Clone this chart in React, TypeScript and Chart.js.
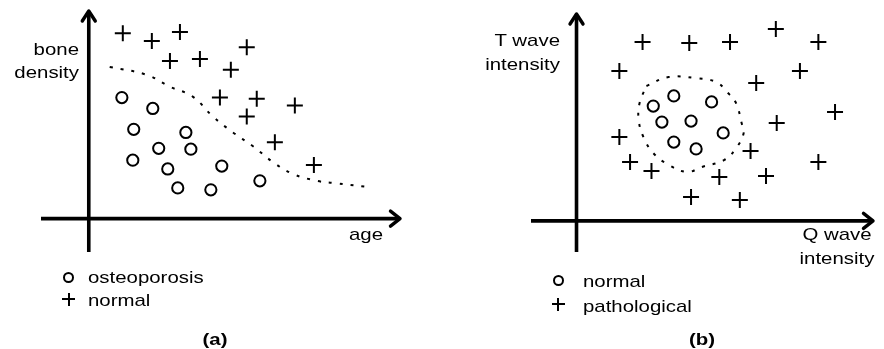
import React, { useEffect, useRef } from "react";
import { Chart, registerables } from "chart.js";

Chart.register(...registerables);

// ---------- Panel (a): bone density vs age ----------
const osteoAgeX = [1.06, 2.05, 1.44, 3.11, 2.24, 3.27, 1.41, 2.53, 4.26, 2.85, 3.91, 5.48];
const osteoDensityY = [5.8, 5.28, 4.28, 4.13, 3.37, 3.33, 2.8, 2.38, 2.52, 1.47, 1.38, 1.81];

const normalAgeX = [1.09, 2.02, 2.92, 2.6, 3.56, 5.06, 4.55, 4.2, 5.38, 6.6, 5.06, 5.96, 7.21];
const normalDensityY = [8.89, 8.51, 8.94, 7.56, 7.65, 8.22, 7.13, 5.8, 5.75, 5.42, 4.9, 3.66, 2.57];

const boundaryAX = [0.67, 1.86, 2.6, 3.33, 3.97, 4.62, 5.26, 5.9, 6.54, 7.31, 7.82, 8.91];
const boundaryAY = [7.27, 6.89, 6.32, 5.85, 4.9, 4.13, 3.47, 2.71, 2.14, 1.81, 1.71, 1.52];

// ---------- Panel (b): T wave vs Q wave intensity ----------
const normalQX = [2.58, 3.27, 4.54, 2.87, 3.85, 4.93, 3.27, 4.02];
const normalTY = [5.52, 6.01, 5.72, 4.75, 4.8, 4.23, 3.79, 3.46];

const pathQX = [2.22, 3.79, 5.16, 6.7, 8.13, 1.44, 7.51, 6.04, 8.69, 6.73, 1.44, 5.85, 1.8, 2.52, 4.8, 6.37, 8.13, 3.85, 5.49];
const pathTY = [8.6, 8.56, 8.6, 9.23, 8.6, 7.21, 7.21, 6.63, 5.24, 4.71, 4.03, 3.36, 2.83, 2.4, 2.11, 2.16, 2.83, 1.15, 1.0];

const boundaryBX = [2.35, 3.1, 3.99, 4.7, 5.06, 5.36, 5.55, 5.62, 5.39, 4.97, 4.21, 3.72, 3.1, 2.58, 2.25, 2.09, 2.12, 2.35];
const boundaryBY = [6.49, 6.92, 6.87, 6.68, 6.2, 5.67, 4.71, 4.23, 3.55, 2.93, 2.59, 2.35, 2.69, 3.26, 4.03, 4.85, 5.67, 6.49];

const FONT = '"Liberation Sans", Arial, sans-serif';

const zip = (xs: number[], ys: number[]) => xs.map((x, i) => ({ x, y: ys[i] }));

const arrowAxes = {
  id: "arrowAxes",
  beforeDatasetsDraw(chart: any) {
    const { ctx, chartArea: a, scales } = chart;
    const x0 = scales.x.getPixelForValue(0);
    const y0 = scales.y.getPixelForValue(0);
    const tipX = a.right - 1;
    const tipY = a.top + 1;
    ctx.save();
    ctx.strokeStyle = "#000";
    ctx.lineWidth = 3.6;
    ctx.lineCap = "butt";
    ctx.beginPath();
    ctx.moveTo(a.left, y0);
    ctx.lineTo(tipX - 1, y0);
    ctx.moveTo(x0, a.bottom);
    ctx.lineTo(x0, tipY + 1);
    ctx.stroke();
    ctx.lineJoin = "round";
    ctx.lineCap = "round";
    ctx.lineWidth = 3.4;
    ctx.beginPath();
    ctx.moveTo(tipX - 9.5, y0 - 7.5);
    ctx.lineTo(tipX, y0);
    ctx.lineTo(tipX - 9.5, y0 + 7.5);
    ctx.moveTo(x0 - 6.5, tipY + 10);
    ctx.lineTo(x0, tipY);
    ctx.lineTo(x0 + 6.5, tipY + 10);
    ctx.stroke();
    ctx.restore();
  },
};

function makeConfig(
  circles: { x: number; y: number }[],
  pluses: { x: number; y: number }[],
  boundary: { x: number; y: number }[],
  padding: { left: number; right: number; top: number; bottom: number },
  xMin: number,
  yMin: number
): any {
  return {
    type: "scatter",
    data: {
      datasets: [
        {
          data: boundary,
          showLine: true,
          borderColor: "#000",
          borderWidth: 2,
          borderDash: [3, 8],
          pointRadius: 0,
          tension: 0.4,
          fill: false,
        },
        {
          data: circles,
          pointStyle: "circle",
          pointRadius: 5.6,
          borderColor: "#000",
          backgroundColor: "rgba(255,255,255,0)",
          borderWidth: 2,
        },
        {
          data: pluses,
          pointStyle: "cross",
          pointRadius: 8,
          borderColor: "#000",
          borderWidth: 2,
        },
      ],
    },
    options: {
      responsive: false,
      maintainAspectRatio: false,
      animation: false,
      events: [],
      layout: { padding },
      plugins: { legend: { display: false }, tooltip: { enabled: false }, title: { display: false } },
      scales: {
        x: { type: "linear", min: xMin, max: 10, display: false },
        y: { type: "linear", min: yMin, max: 10, display: false },
      },
    },
    plugins: [arrowAxes],
  };
}

type LabelProps = {
  x: number;
  top: number;
  align: "left" | "right" | "center";
  bold?: boolean;
  lh?: number;
  text: string;
};

function Label({ x, top, align, bold, lh = 23, text }: LabelProps) {
  const w = 200;
  const left = align === "left" ? x : align === "right" ? x - w : x - w / 2;
  const origin = align === "left" ? "left top" : align === "right" ? "right top" : "center top";
  return (
    <div
      style={{
        position: "absolute",
        left,
        top,
        width: w,
        textAlign: align,
        fontFamily: FONT,
        fontSize: 17,
        lineHeight: `${lh}px`,
        fontWeight: bold ? "bold" : "normal",
        whiteSpace: "pre",
        color: "#000",
        transform: "scaleX(1.2)",
        transformOrigin: origin,
      }}
    >
      {text}
    </div>
  );
}

function CircleMark({ cx, cy }: { cx: number; cy: number }) {
  return (
    <div
      style={{
        position: "absolute",
        left: cx - 5.5,
        top: cy - 5.5,
        width: 7,
        height: 7,
        border: "2px solid #000",
        borderRadius: "50%",
      }}
    />
  );
}

function PlusMark({ cx, cy }: { cx: number; cy: number }) {
  return (
    <>
      <div style={{ position: "absolute", left: cx - 6.5, top: cy - 1, width: 13, height: 2, background: "#000" }} />
      <div style={{ position: "absolute", left: cx - 1, top: cy - 6.5, width: 2, height: 13, background: "#000" }} />
    </>
  );
}

export default function App() {
  const refA = useRef<HTMLCanvasElement>(null);
  const refB = useRef<HTMLCanvasElement>(null);

  useEffect(() => {
    const chartA = new Chart(
      refA.current as HTMLCanvasElement,
      makeConfig(
        zip(osteoAgeX, osteoDensityY),
        zip(normalAgeX, normalDensityY),
        zip(boundaryAX, boundaryAY),
        { left: 41, right: 39, top: 10, bottom: 97 },
        -1.53,
        -1.6
      )
    );
    const chartB = new Chart(
      refB.current as HTMLCanvasElement,
      makeConfig(
        zip(normalQX, normalTY),
        zip(pathQX, pathTY),
        zip(boundaryBX, boundaryBY),
        { left: 91, right: 0, top: 13, bottom: 97 },
        -1.53,
        -1.5
      )
    );
    return () => {
      chartA.destroy();
      chartB.destroy();
    };
  }, []);

  return (
    <div
      style={{
        position: "fixed",
        left: 0,
        top: 0,
        width: 884,
        height: 349,
        background: "#fff",
        overflow: "hidden",
      }}
    >
      <canvas ref={refA} width={440} height={349} style={{ position: "absolute", left: 0, top: 0 }} />
      <canvas ref={refB} width={444} height={349} style={{ position: "absolute", left: 440, top: 0 }} />

      {/* Panel (a) texts */}
      <Label x={79} top={37.6} align="right" text={"bone\ndensity"} />
      <Label x={349} top={222.6} align="left" text="age" />
      <CircleMark cx={68.5} cy={277} />
      <Label x={88} top={265.6} align="left" text="osteoporosis" />
      <PlusMark cx={68.5} cy={299} />
      <Label x={88} top={288.6} align="left" text="normal" />
      <Label x={215} top={327.6} align="center" bold text="(a)" />

      {/* Panel (b) texts */}
      <Label x={560} top={28.6} align="right" lh={24} text={"T wave\nintensity"} />
      <Label x={837} top={222.6} align="center" lh={24} text={"Q wave\nintensity"} />
      <CircleMark cx={558} cy={280} />
      <Label x={583} top={269.6} align="left" text="normal" />
      <PlusMark cx={558} cy={304} />
      <Label x={583} top={294.6} align="left" text="pathological" />
      <Label x={702} top={327.6} align="center" bold text="(b)" />
    </div>
  );
}
